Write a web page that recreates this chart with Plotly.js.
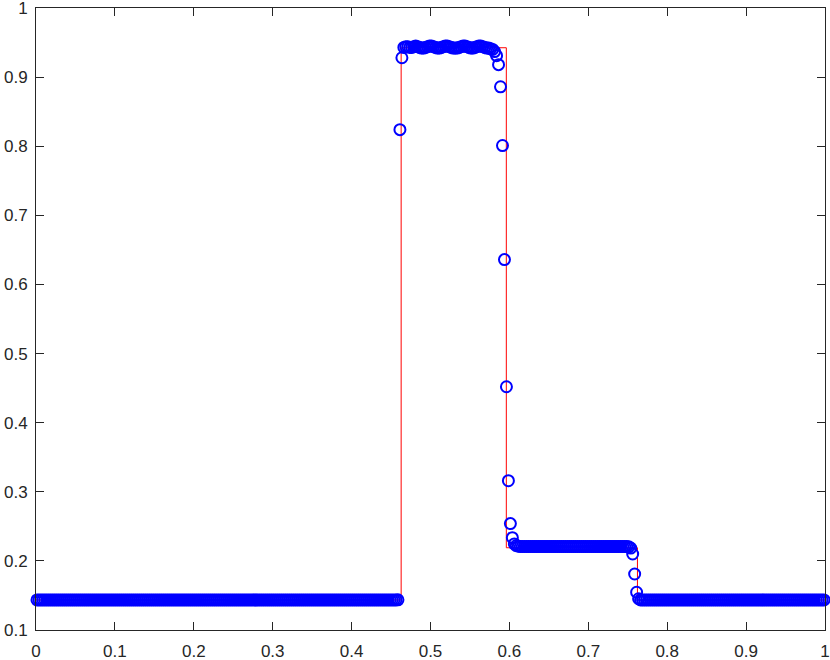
<!DOCTYPE html>
<html>
<head>
<meta charset="utf-8">
<script src="https://cdn.plot.ly/plotly-3.0.1.min.js"></script>
<style>
html,body{margin:0;padding:0;background:#fff;overflow:hidden;}
#chart{width:830px;height:680px;margin-top:-20px;}
</style>
</head>
<body>
<div id="chart"></div>
<script>
// ---------- data ----------
// number of uniform cells of the numerical solution (cell centres on [0,1])
const gridN = 400;

// numerical solution (blue circles), read cell by cell, left to right
const yLeftState = [
  0.1435,0.1435,0.1435,0.1435,0.1435,0.1435,0.1435,0.1435,0.1435,0.1435,
  0.1435,0.1435,0.1435,0.1435,0.1435,0.1435,0.1435,0.1435,0.1435,0.1435,
  0.1435,0.1435,0.1435,0.1435,0.1435,0.1435,0.1435,0.1435,0.1435,0.1435,
  0.1435,0.1435,0.1435,0.1435,0.1435,0.1435,0.1435,0.1435,0.1435,0.1435,
  0.1435,0.1435,0.1435,0.1435,0.1435,0.1435,0.1435,0.1435,0.1435,0.1435,
  0.1435,0.1435,0.1435,0.1435,0.1435,0.1435,0.1435,0.1435,0.1435,0.1435,
  0.1435,0.1435,0.1435,0.1435,0.1435,0.1435,0.1435,0.1435,0.1435,0.1435,
  0.1435,0.1435,0.1435,0.1435,0.1435,0.1435,0.1435,0.1435,0.1435,0.1435,
  0.1435,0.1435,0.1435,0.1435,0.1435,0.1435,0.1435,0.1435,0.1435,0.1435,
  0.1435,0.1435,0.1435,0.1435,0.1435,0.1435,0.1435,0.1435,0.1435,0.1435,
  0.1435,0.1435,0.1435,0.1435,0.1435,0.1435,0.1435,0.1435,0.1435,0.1435,
  0.1435,0.1435,0.1435,0.1435,0.1435,0.1435,0.1435,0.1435,0.1435,0.1435,
  0.1435,0.1435,0.1435,0.1435,0.1435,0.1435,0.1435,0.1435,0.1435,0.1435,
  0.1435,0.1435,0.1435,0.1435,0.1435,0.1435,0.1435,0.1435,0.1435,0.1435,
  0.1435,0.1435,0.1435,0.1435,0.1435,0.1435,0.1435,0.1435,0.1435,0.1435,
  0.1435,0.1435,0.1435,0.1435,0.1435,0.1435,0.1435,0.1435,0.1435,0.1435,
  0.1435,0.1435,0.1435,0.1435,0.1435,0.1435,0.1435,0.1435,0.1435,0.1435,
  0.1435,0.1435,0.1435,0.1435,0.1435,0.1435,0.1435,0.1435,0.1435,0.1435,
  0.1435,0.1435,0.1435,0.1436
];
const yShockUp = [0.824, 0.928];
const yTopState = [
  0.943,0.944,0.944,0.943,0.943,0.944,0.945,0.944,0.943,0.942,
  0.942,0.943,0.944,0.945,0.945,0.944,0.943,0.942,0.942,0.943,
  0.944,0.945,0.945,0.944,0.943,0.942,0.942,0.942,0.943,0.944,
  0.945,0.945,0.944,0.943,0.942,0.942,0.943,0.944,0.945,0.945,
  0.944,0.943,0.942,0.942,0.941,0.940,0.937,0.931
];
const yContact = [0.918, 0.886, 0.801, 0.636, 0.452, 0.316, 0.254, 0.2336];
const yMidState = [
  0.2245,0.2222,0.2212,0.2208,0.2208,0.2208,0.2208,0.2208,0.2208,0.2208,
  0.2208,0.2208,0.2208,0.2208,0.2208,0.2208,0.2208,0.2208,0.2208,0.2208,
  0.2208,0.2208,0.2208,0.2208,0.2208,0.2208,0.2208,0.2208,0.2208,0.2208,
  0.2208,0.2208,0.2208,0.2208,0.2208,0.2208,0.2208,0.2208,0.2208,0.2208,
  0.2208,0.2208,0.2208,0.2208,0.2208,0.2208,0.2208,0.2208,0.2208,0.2208,
  0.2208,0.2208,0.2208,0.2208,0.2208,0.2208,0.2208,0.2208,0.2203,0.2185
];
const yShockDown = [0.210, 0.181, 0.1546];
const yRightState = [
  0.1452,0.1435,0.1435,0.1435,0.1435,0.1435,0.1435,0.1435,0.1435,0.1435,
  0.1435,0.1435,0.1435,0.1435,0.1435,0.1435,0.1435,0.1435,0.1435,0.1435,
  0.1435,0.1435,0.1435,0.1435,0.1435,0.1435,0.1435,0.1435,0.1435,0.1435,
  0.1435,0.1435,0.1435,0.1435,0.1435,0.1435,0.1435,0.1435,0.1435,0.1435,
  0.1435,0.1435,0.1435,0.1435,0.1435,0.1435,0.1435,0.1435,0.1435,0.1435,
  0.1435,0.1435,0.1435,0.1435,0.1435,0.1435,0.1435,0.1435,0.1435,0.1435,
  0.1435,0.1435,0.1435,0.1435,0.1435,0.1435,0.1435,0.1435,0.1435,0.1435,
  0.1435,0.1435,0.1435,0.1435,0.1435,0.1435,0.1435,0.1435,0.1435,0.1435,
  0.1435,0.1435,0.1435,0.1435,0.1435,0.1435,0.1435,0.1435,0.1435,0.1435,
  0.1435,0.1435,0.1435,0.1435,0.1435
];

// exact solution (red line)
const xExact = [0, 0.4628, 0.4628, 0.5961, 0.5961, 0.7623, 0.7623, 1];
const yExact = [0.1435, 0.1435, 0.9425, 0.9425, 0.219, 0.219, 0.1435, 0.1435];

// ticks
const xTickVals = [0, 0.1, 0.2, 0.3, 0.4, 0.5, 0.6, 0.7, 0.8, 0.9, 1];
const xTickText = ['0','0.1','0.2','0.3','0.4','0.5','0.6','0.7','0.8','0.9','1'];
const yTickVals = [0.1, 0.2, 0.3, 0.4, 0.5, 0.6, 0.7, 0.8, 0.9, 1];
const yTickText = ['0.1','0.2','0.3','0.4','0.5','0.6','0.7','0.8','0.9','1'];

// ---------- build ----------
const yNum = [].concat(yLeftState, yShockUp, yTopState, yContact, yMidState, yShockDown, yRightState);
const xNum = yNum.map((_, i) => (i + 0.5) / gridN);

const axisColor = '#262626';
const tickFont = {family: 'Liberation Sans, Arial, Helvetica, sans-serif', size: 17, color: axisColor};

const traces = [
  {
    x: xExact, y: yExact, type: 'scatter', mode: 'lines',
    line: {color: 'rgb(255,0,0)', width: 1},
    hoverinfo: 'skip', showlegend: false
  },
  {
    x: xNum, y: yNum, type: 'scatter', mode: 'markers',
    marker: {symbol: 'circle-open', size: 11, color: 'rgb(0,0,255)', line: {width: 2, color: 'rgb(0,0,255)'}},
    cliponaxis: false, showlegend: false
  }
];

const layout = {
  width: 830, height: 680,
  margin: {l: 36, r: 5, t: 28, b: 30, pad: 0},
  paper_bgcolor: '#ffffff', plot_bgcolor: '#ffffff',
  showlegend: false,
  xaxis: {
    range: [0, 1], tickmode: 'array', tickvals: xTickVals, ticktext: xTickText,
    ticks: 'inside', ticklen: 8, tickwidth: 1, tickcolor: axisColor,
    showline: true, linecolor: axisColor, linewidth: 1, mirror: 'ticks',
    showgrid: false, zeroline: false, tickfont: tickFont, ticklabelstandoff: 6
  },
  yaxis: {
    range: [0.1, 1], tickmode: 'array', tickvals: yTickVals, ticktext: yTickText,
    ticks: 'inside', ticklen: 8, tickwidth: 1, tickcolor: axisColor,
    showline: true, linecolor: axisColor, linewidth: 1, mirror: 'ticks',
    showgrid: false, zeroline: false, tickfont: tickFont, ticklabelstandoff: 4
  }
};

Plotly.newPlot('chart', traces, layout, {staticPlot: true, displayModeBar: false});
</script>
</body>
</html>
